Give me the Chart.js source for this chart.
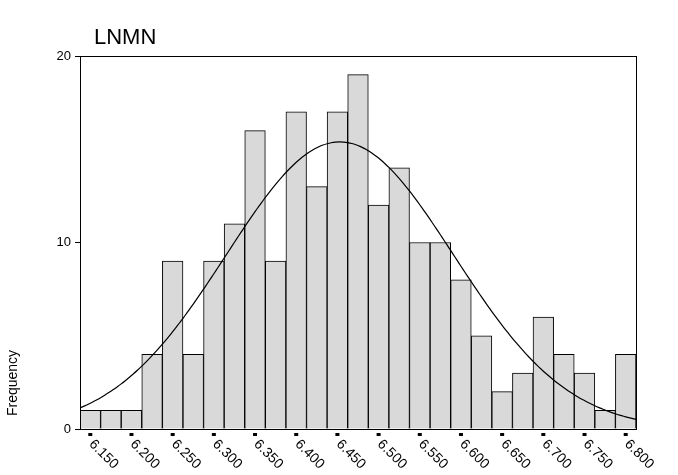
<!DOCTYPE html>
<html>
<head>
<meta charset="utf-8">
<script src="https://cdn.jsdelivr.net/npm/chart.js@4/dist/chart.umd.min.js"></script>
<style>
  html, body { margin: 0; padding: 0; background: #fff; }
  #wrap { width: 678px; height: 475px; }
</style>
</head>
<body>
<div id="wrap"><canvas id="chart"></canvas></div>
<script>
// bin centres and counts
const binCenters = [6.150, 6.175, 6.200, 6.225, 6.250, 6.275, 6.300, 6.325, 6.350, 6.375,
  6.400, 6.425, 6.450, 6.475, 6.500, 6.525, 6.550, 6.575, 6.600, 6.625,
  6.650, 6.675, 6.700, 6.725, 6.750, 6.775, 6.800];
const counts = [1, 1, 1, 4, 9, 4, 9, 11, 16, 9, 17, 13, 17, 19, 12, 14, 10, 10, 8, 5,
  2, 3, 6, 4, 3, 1, 4];
const xTickLabels = ["6.150", "6.200", "6.250", "6.300", "6.350", "6.400", "6.450",
  "6.500", "6.550", "6.600", "6.650", "6.700", "6.750", "6.800"];
const yTicks = [0, 10, 20];

// fitted normal curve parameters
const fitMean = 6.453;
const fitSd = 0.138;
const binWidth = 0.025;
const total = counts.reduce((a, b) => a + b, 0);

const curveX = [];
for (let x = 6.1375; x <= 6.8126; x += 0.005) curveX.push(x);
const curve = curveX.map(x => ({
  x,
  y: total * binWidth / (fitSd * Math.sqrt(2 * Math.PI)) *
     Math.exp(-0.5 * Math.pow((x - fitMean) / fitSd, 2))
}));

const FONT = "'Liberation Sans', Arial, sans-serif";

const decor = {
  id: "decor",
  afterDraw(chart) {
    const { ctx, chartArea: a, scales } = chart;
    ctx.save();
    // frame
    ctx.strokeStyle = "#000";
    ctx.lineWidth = 1;
    ctx.strokeRect(a.left + 0.5, a.top + 0.5, a.right - a.left, a.bottom - a.top);
    // title
    ctx.fillStyle = "#000";
    ctx.font = "22px " + FONT;
    ctx.textBaseline = "alphabetic";
    ctx.fillText("LNMN", 94, 44);
    // y title
    ctx.font = "14px " + FONT;
    ctx.translate(13, 383);
    ctx.rotate(-Math.PI / 2);
    ctx.textAlign = "center";
    ctx.textBaseline = "middle";
    ctx.fillText("Frequency", 0, 0);
    ctx.restore();

    // x ticks + rotated labels
    ctx.save();
    ctx.fillStyle = "#000";
    ctx.font = "14px " + FONT;
    xTickLabels.forEach(l => {
      const px = scales.x.getPixelForValue(parseFloat(l));
      ctx.fillRect(px - 2, a.bottom + 4, 4, 3);
      ctx.save();
      ctx.translate(px + 1, a.bottom + 13);
      ctx.rotate(Math.PI / 4);
      ctx.textAlign = "left";
      ctx.textBaseline = "middle";
      ctx.fillText(l, 0, 0);
      ctx.restore();
    });
    ctx.restore();
  }
};

new Chart(document.getElementById("chart"), {
  data: {
    datasets: [
      {
        type: "line",
        data: curve,
        borderColor: "#000",
        borderWidth: 1.2,
        pointRadius: 0,
        tension: 0.3,
        fill: false,
        order: 0
      },
      {
        type: "bar",
        data: binCenters.map((x, i) => ({ x, y: counts[i] })),
        backgroundColor: "#d9d9d9",
        borderColor: "#000",
        borderWidth: 1,
        barPercentage: 1,
        categoryPercentage: 1,
        grouped: false,
        order: 1
      }
    ]
  },
  options: {
    responsive: true,
    maintainAspectRatio: false,
    animation: false,
    layout: { padding: { left: 0, right: 42, top: 56, bottom: 38 } },
    plugins: { legend: { display: false }, tooltip: { enabled: false } },
    scales: {
      x: {
        type: "linear",
        min: 6.1375,
        max: 6.8125,
        offset: false,
        grid: { display: false },
        border: { display: false },
        ticks: { display: false }
      },
      y: {
        min: 0,
        max: 20,
        afterBuildTicks: s => { s.ticks = yTicks.map(v => ({ value: v })); },
        afterFit: s => { s.width = 80; },
        grid: { drawOnChartArea: false, tickLength: 5, color: "#000" },
        border: { display: false },
        ticks: { color: "#000", font: { family: FONT, size: 13 }, padding: 4 }
      }
    }
  },
  plugins: [decor]
});
</script>
</body>
</html>
